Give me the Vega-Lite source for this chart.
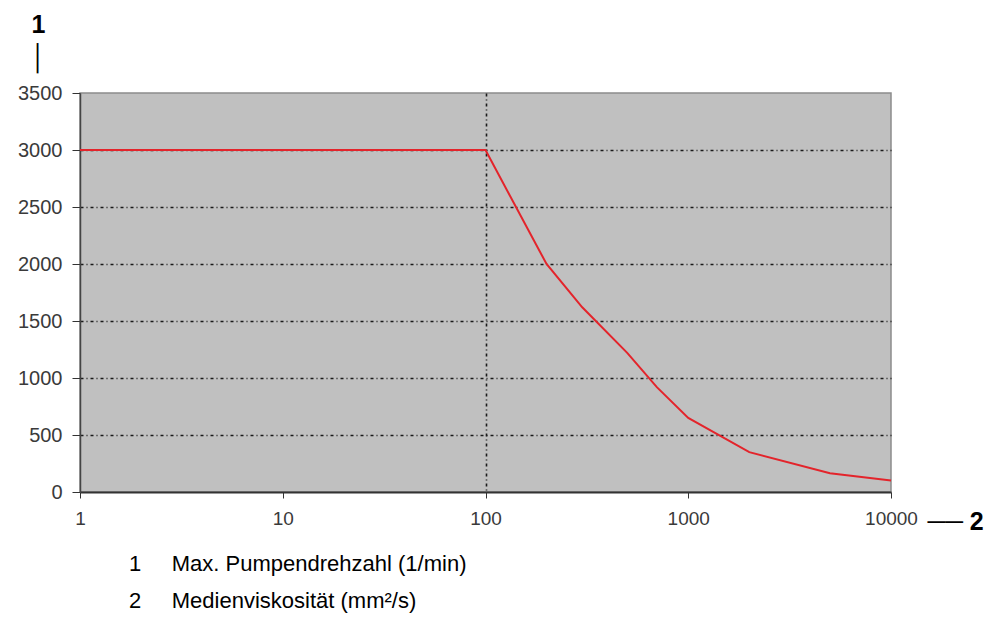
{
  "$schema": "https://vega.github.io/schema/vega-lite/v6.json",
  "width": 811,
  "height": 399,
  "autosize": {"type": "none"},
  "padding": {"left": 80, "top": 93, "right": 106, "bottom": 129},
  "background": "white",
  "config": {
    "font": "Liberation Sans",
    "view": {"fill": "#c0c0c0", "stroke": "#8c8c8c", "strokeWidth": 1.5}
  },
  "title": {
    "text": ["1\u00a0\u00a0\u00a0\u00a0\u00a0Max. Pumpendrehzahl (1/min)", "2\u00a0\u00a0\u00a0\u00a0\u00a0Medienviskosität (mm²/s)"],
    "orient": "bottom",
    "anchor": "start",
    "frame": "group",
    "dx": 49,
    "offset": 20,
    "font": "Liberation Sans",
    "fontSize": 22,
    "fontWeight": "normal",
    "color": "black",
    "lineHeight": 37
  },
  "data": {
    "values": [
      {"viscosity": 1, "speed": 3000},
      {"viscosity": 100, "speed": 3000},
      {"viscosity": 200, "speed": 2000},
      {"viscosity": 300, "speed": 1620},
      {"viscosity": 500, "speed": 1220},
      {"viscosity": 700, "speed": 920},
      {"viscosity": 1000, "speed": 650},
      {"viscosity": 2000, "speed": 350},
      {"viscosity": 5000, "speed": 165},
      {"viscosity": 10000, "speed": 100}
    ]
  },
  "mark": {"type": "line", "color": "#e3242b", "strokeWidth": 2},
  "encoding": {
    "x": {
      "field": "viscosity",
      "type": "quantitative",
      "scale": {"type": "log", "domain": [1, 10000]},
      "axis": {
        "values": [1, 10, 100, 1000, 10000],
        "format": "d",
        "labelFont": "Liberation Sans",
        "labelFontSize": 19,
        "labelColor": "#3a3a3a",
        "labelPadding": 11,
        "labelFlush": false,
        "tickSize": 6,
        "tickColor": "#333333",
        "domainColor": "#333333",
        "domainWidth": 2,
        "grid": true,
        "gridColor": "#1a1a1a",
        "gridDash": [3, 3, 1, 3],
        "gridWidth": 1.6,
        "gridOpacity": {"condition": {"test": "datum.value == 100", "value": 1}, "value": 0},
        "title": "── 2",
        "titleFont": "Liberation Sans, DejaVu Sans",
        "titleFontSize": 25,
        "titleFontWeight": "bold",
        "titleColor": "black",
        "titleAlign": "left",
        "titleBaseline": "middle",
        "titleX": 847,
        "titleY": 29
      }
    },
    "y": {
      "field": "speed",
      "type": "quantitative",
      "scale": {"domain": [0, 3500], "nice": false},
      "axis": {
        "values": [0, 500, 1000, 1500, 2000, 2500, 3000, 3500],
        "format": "d",
        "labelFont": "Liberation Sans",
        "labelFontSize": 20,
        "labelColor": "#3a3a3a",
        "labelPadding": 10,
        "labelFlush": false,
        "tickSize": 8,
        "tickColor": "#333333",
        "domainColor": "#444444",
        "domainWidth": 1.5,
        "grid": true,
        "gridColor": "#1a1a1a",
        "gridDash": [3, 3, 1, 3],
        "gridWidth": 1.6,
        "gridOpacity": {"condition": {"test": "datum.value > 0 && datum.value < 3500", "value": 1}, "value": 0},
        "title": ["1", "│"],
        "titleFont": "Liberation Sans, DejaVu Sans",
        "titleFontSize": 25,
        "titleFontWeight": "bold",
        "titleColor": "black",
        "titleAngle": 0,
        "titleAlign": "center",
        "titleBaseline": "top",
        "titleLineHeight": 33,
        "titleX": -42,
        "titleY": -81
      }
    }
  }
}
